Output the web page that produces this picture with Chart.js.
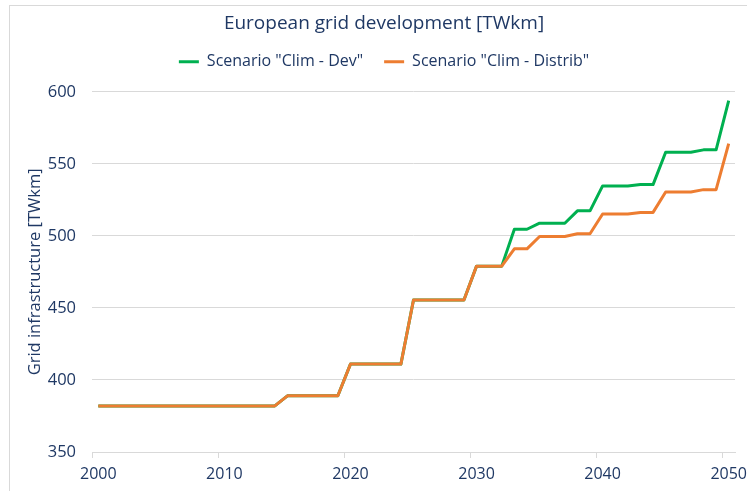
<!DOCTYPE html>
<html>
<head>
<meta charset="utf-8">
<title>European grid development</title>
<script src="https://cdn.jsdelivr.net/npm/chart.js@4.4.0/dist/chart.umd.min.js"></script>
<style>
    html, body { margin: 0; padding: 0; background: #fff; }
    #frame { position: absolute; left: 9px; top: 5px; width: 800px; height: 600px; border: 1px solid #d9d9d9; }
    #wrap { position: absolute; left: 0; top: 0; width: 747px; height: 491px; }
</style>
</head>
<body>
<div id="frame"></div>
<div id="wrap"><canvas id="gridChart" width="747" height="491"></canvas></div>
<script>
// years 2000 - 2050, one value per year
var years = [
    '2000', '2001', '2002', '2003', '2004', '2005', '2006', '2007', '2008', '2009',
    '2010', '2011', '2012', '2013', '2014', '2015', '2016', '2017', '2018', '2019',
    '2020', '2021', '2022', '2023', '2024', '2025', '2026', '2027', '2028', '2029',
    '2030', '2031', '2032', '2033', '2034', '2035', '2036', '2037', '2038', '2039',
    '2040', '2041', '2042', '2043', '2044', '2045', '2046', '2047', '2048', '2049',
    '2050'
];

// Scenario "Clim - Dev" [TWkm]
var climDev = [
    382, 382, 382, 382, 382, 382, 382, 382, 382, 382,
    382, 382, 382, 382, 382, 389, 389, 389, 389, 389,
    411, 411, 411, 411, 411, 455.5, 455.5, 455.5, 455.5, 455.5,
    479, 479, 479, 504.6, 504.6, 508.8, 508.8, 508.8, 517.4, 517.4,
    534.7, 534.7, 534.7, 535.6, 535.6, 558.1, 558.1, 558.1, 559.7, 559.7,
    593.8
];

// Scenario "Clim - Distrib" [TWkm]
var climDistrib = [
    382, 382, 382, 382, 382, 382, 382, 382, 382, 382,
    382, 382, 382, 382, 382, 389, 389, 389, 389, 389,
    411, 411, 411, 411, 411, 455.5, 455.5, 455.5, 455.5, 455.5,
    479, 479, 479, 491, 491, 499.6, 499.6, 499.6, 501.5, 501.5,
    515.2, 515.2, 515.2, 516.3, 516.3, 530.5, 530.5, 530.5, 532.1, 532.1,
    564.1
];

var yTicks = [350, 400, 450, 500, 550, 600];

var navy = '#1F3864';
var fontName = '"Open Sans", sans-serif';

// push the plot down below the legend, like the excel original
var legendGap = {
    id: 'legendGap',
    beforeInit: function (chart) {
        var fit = chart.legend.fit;
        chart.legend.fit = function () {
            fit.bind(chart.legend)();
            this.height += 12;
        };
    }
};

var ctx = document.getElementById('gridChart');
var gridChart = new Chart(ctx, {
    type: 'line',
    data: {
        labels: years,
        datasets: [
            {
                label: 'Scenario "Clim - Dev"',
                data: climDev,
                borderColor: '#00B050',
                backgroundColor: '#00B050',
                borderWidth: 3,
                pointRadius: 0,
                borderJoinStyle: 'round',
                order: 1
            },
            {
                label: 'Scenario "Clim - Distrib"',
                data: climDistrib,
                borderColor: '#ED7D31',
                backgroundColor: '#ED7D31',
                borderWidth: 3,
                pointRadius: 0,
                borderJoinStyle: 'round',
                order: 0
            }
        ]
    },
    plugins: [legendGap],
    options: {
        responsive: false,
        animation: false,
        devicePixelRatio: 1,
        layout: {
            padding: { left: 33, right: 12, top: 0, bottom: 0 }
        },
        plugins: {
            title: {
                display: true,
                text: 'European grid development [TWkm]',
                color: navy,
                font: { family: fontName, size: 19, weight: 'normal' },
                padding: { top: 12, bottom: -2 }
            },
            legend: {
                labels: {
                    usePointStyle: true,
                    pointStyle: 'line',
                    pointStyleWidth: 20,
                    color: navy,
                    font: { family: fontName, size: 16 },
                    padding: 21,
                    sort: function (a, b) { return a.datasetIndex - b.datasetIndex; }
                }
            },
            tooltip: { enabled: false }
        },
        scales: {
            x: {
                type: 'category',
                offset: true,
                afterFit: function (scale) {
                    scale.paddingLeft = 0;
                    scale.paddingRight = 0;
                    scale.height = 39;
                },
                grid: {
                    offset: true,
                    drawOnChartArea: false,
                    tickLength: 6,
                    color: function (c) {
                        return (c.index !== undefined && c.index % 10 === 0) ? '#d9d9d9' : 'rgba(0,0,0,0)';
                    }
                },
                border: { display: true, color: '#d9d9d9' },
                ticks: {
                    autoSkip: false,
                    maxRotation: 0,
                    color: navy,
                    padding: 7,
                    font: { family: fontName, size: 16 },
                    callback: function (value, index) {
                        var label = years[index];
                        return (Number(label) % 10 === 0) ? label : '';
                    }
                }
            },
            y: {
                min: yTicks[0],
                max: yTicks[yTicks.length - 1],
                afterBuildTicks: function (scale) {
                    scale.ticks = yTicks.map(function (v) { return { value: v }; });
                },
                afterFit: function (scale) {
                    scale.width = 59;
                },
                grid: { color: '#d9d9d9', drawTicks: false },
                border: { display: false },
                ticks: {
                    color: navy,
                    padding: 16,
                    font: { family: fontName, size: 16.5 }
                },
                title: {
                    display: true,
                    text: 'Grid infrastructure [TWkm]',
                    color: navy,
                    font: { family: fontName, size: 16.5 },
                    padding: { top: -8, bottom: 0 }
                }
            }
        }
    }
});
</script>
</body>
</html>
